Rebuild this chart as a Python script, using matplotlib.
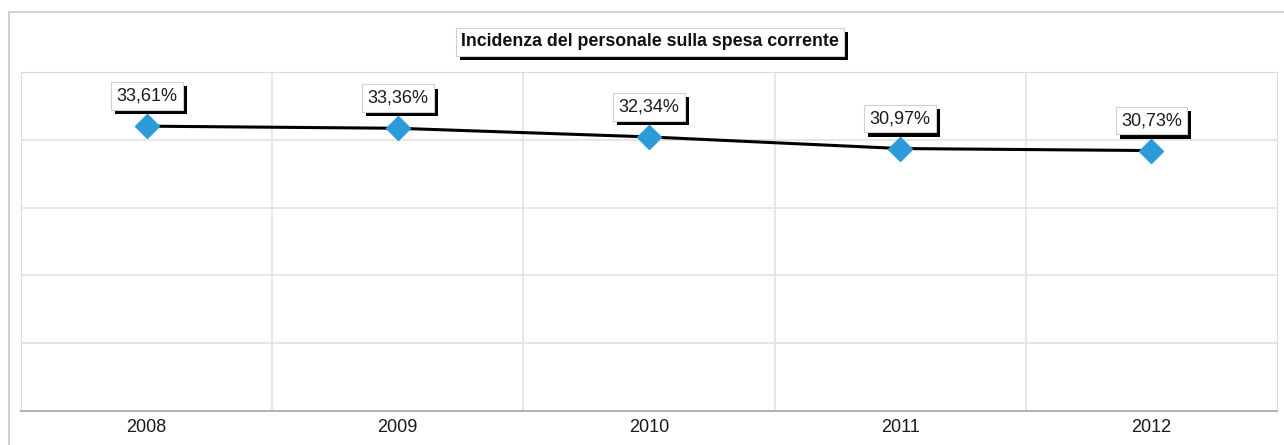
import matplotlib.pyplot as plt
from matplotlib.patches import Rectangle
import matplotlib.patheffects as pe

years = ['2008', '2009', '2010', '2011', '2012']
incidenza = [33.61, 33.36, 32.34, 30.97, 30.73]
labels = ['33,61%', '33,36%', '32,34%', '30,97%', '30,73%']

plt.rcParams['font.family'] = ['Liberation Sans', 'DejaVu Sans']

fig = plt.figure(figsize=(12.84, 4.45), dpi=100)

# outer chart frame
fig.patches.append(Rectangle((9 / 1284, -0.1), 1.2, 1 - 12 / 445 + 0.1, transform=fig.transFigure,
                             fill=False, edgecolor='#c8c8c8', linewidth=1.2))

ax = fig.add_axes([21 / 1284, 34 / 445, 1256 / 1284, 339 / 445])

x = range(len(years))
ax.plot(x, incidenza, color='black', linewidth=2.2, zorder=3)
ax.plot(x, incidenza, linestyle='none', marker='D', markersize=12,
        color='#2e9bd9', markeredgecolor='#2e9bd9', zorder=4)

shadow = [pe.withSimplePatchShadow(offset=(3, -3), shadow_rgbFace='black', alpha=1)]

# data labels
for i, val in enumerate(incidenza):
    t = ax.annotate(labels[i], (i, val), xytext=(0, 30), textcoords='offset pixels',
                    ha='center', va='center', fontsize=13, color='#1a1a1a', zorder=5,
                    bbox=dict(boxstyle='square,pad=0.3', facecolor='white', edgecolor='#d0d0d0', linewidth=0.8))
    t.get_bbox_patch().set_path_effects(shadow)

# gridlines
ax.set_xlim(-0.5, len(years) - 0.5)
ax.set_ylim(0, 40)
ax.set_yticks([0, 8, 16, 24, 32, 40])
ax.yaxis.grid(True, color='#e2e2e2', linewidth=1.2)
for b in [0.5, 1.5, 2.5, 3.5]:
    ax.axvline(b, color='#e2e2e2', linewidth=1.2, zorder=1)
ax.set_axisbelow(True)
ax.tick_params(axis='y', left=False, labelleft=False)

ax.set_xticks(list(x))
ax.set_xticklabels(years, fontsize=13, color='#1a1a1a')
ax.tick_params(axis='x', length=0, pad=6)

for side in ['top', 'left', 'right']:
    ax.spines[side].set_color('#dcdcdc')
ax.spines['bottom'].set_color('#b4b4b4')
ax.spines['bottom'].set_linewidth(1.5)

# title box
tt = fig.text(650 / 1284, 1 - 42 / 445, 'Incidenza del personale sulla spesa corrente',
              ha='center', va='center', fontsize=12.8, fontweight='bold', color='#111111',
              bbox=dict(boxstyle='square,pad=0.3', facecolor='white', edgecolor='#d0d0d0', linewidth=0.8))
tt.get_bbox_patch().set_path_effects(shadow)

fig.savefig('out.png', dpi=100)
